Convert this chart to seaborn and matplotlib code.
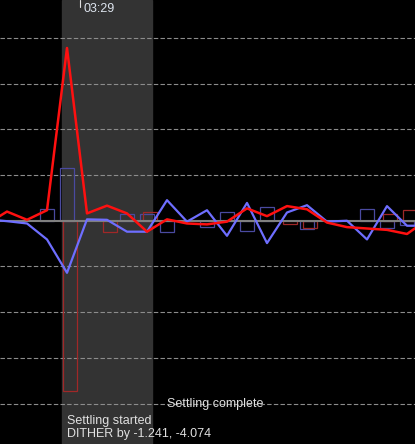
import numpy as np
import pandas as pd
import seaborn as sns
import matplotlib.pyplot as plt

# ========================================
# Data (guide steps, values in arcsec)
# ========================================
step = list(range(-1, 22))
ra_dist = [-0.07, 0.20, 0.02, 0.23, 3.78, 0.16, 0.33, 0.16, -0.24, 0.03, -0.06, -0.08,
           -0.02, 0.27, 0.10, 0.32, 0.25, -0.04, -0.14, -0.17, -0.20, -0.29, 0.02]
dec_dist = [0.03, -0.01, -0.06, -0.41, -1.14, 0.03, 0.02, -0.24, -0.24, 0.45, -0.02, 0.23,
            -0.33, 0.39, -0.49, 0.18, 0.34, -0.02, 0.00, -0.41, 0.32, -0.11, -0.11]

# correction pulses (outlined bars)
dec_corr_step = [2, 3, 6, 7, 8, 10, 11, 12, 13, 15, 18, 19, 20]
dec_corr = [0.25, 1.15, 0.15, 0.15, -0.25, -0.13, 0.18, -0.22, 0.29, -0.19, 0.26, -0.15, -0.10]
ra_corr_step = [3, 5, 7, 14, 15, 19, 20]
ra_corr = [-3.73, -0.25, 0.19, -0.07, -0.17, 0.15, 0.23]

settle_start, settle_end = 2.75, 7.25
dither_step = 3
settled_step = 8
time_step = 3.65
time_label = "03:29"
dither_text = "Settling started\nDITHER by -1.241, -4.074"
settled_text = "Settling complete"

df = pd.DataFrame({"step": step, "RA": ra_dist, "Dec": dec_dist})

# ========================================
# Plot
# ========================================
sns.set_style("dark")
plt.rcParams['font.family'] = ['Liberation Sans', 'DejaVu Sans']

fig = plt.figure(figsize=(4.15, 4.44), dpi=100)
fig.patch.set_facecolor('black')
ax = fig.add_axes([0, 0, 1, 1])
ax.set_facecolor('black')

ax.axvspan(settle_start, settle_end, color='#333333', zorder=0)

for g in [-4, -3, -2, -1, 1, 2, 3, 4]:
    ax.axhline(g, color='#8c8c8c', linestyle=(0, (4, 2)), linewidth=0.8, zorder=1)

ax.bar(np.array(dec_corr_step), dec_corr, width=0.7, fill=False,
       edgecolor='#4a4aa0', linewidth=0.9, zorder=2)
ax.bar(np.array(ra_corr_step) + 0.15, ra_corr, width=0.7, fill=False,
       edgecolor='#a02828', linewidth=0.9, zorder=2)

ax.axhline(0, color='#7f7f7f', linewidth=1.5, zorder=3)

sns.lineplot(data=df, x="step", y="Dec", color='#6e6eff', linewidth=1.6, ax=ax, zorder=4)
sns.lineplot(data=df, x="step", y="RA", color='#ff1010', linewidth=1.8, ax=ax, zorder=5)

ax.set_xlim(-0.35, 20.4)
ax.set_ylim(-4.886, 4.83)

ax.plot([time_step, time_step], [4.83, 4.68], color='#e0e0e0', linewidth=0.8, zorder=6)
ax.text(time_step + 0.15, 4.77, time_label, color='#dde4ee', fontsize=9,
        va='top', ha='left', zorder=6)
ax.text(dither_step, -4.53, dither_text, color='#e0e0e0', fontsize=9,
        va='center', ha='left', linespacing=1.1, zorder=6)
ax.text(settled_step, -4.02, settled_text, color='#e0e0e0', fontsize=9,
        va='center', ha='left', zorder=6)

ax.set_xlabel("")
ax.set_ylabel("")
ax.set_xticks([])
ax.set_yticks([])
ax.grid(False)
for s in ax.spines.values():
    s.set_visible(False)

plt.savefig("out.png", dpi=100, facecolor='black')
